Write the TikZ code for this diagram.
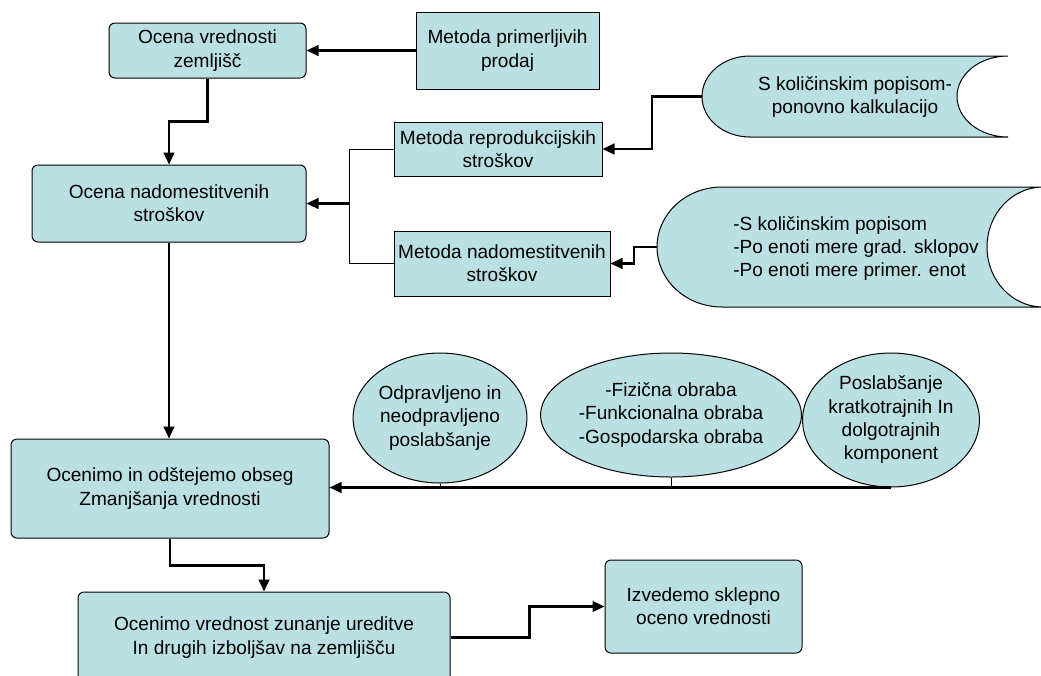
\documentclass[tikz,border=0pt]{standalone}
\usepackage{fontspec}
\setmainfont{Liberation Sans}
\usetikzlibrary{arrows.meta,shapes.geometric}
\definecolor{boxfill}{RGB}{187,224,227}
\tikzset{
  box/.style={draw,fill=boxfill,line width=0.75pt,align=center,inner sep=0pt,
    font=\fontsize{14.3}{17.5}\selectfont},
  roundbox/.style={box,rounded corners=4.5pt},
  oval/.style={box,ellipse},
  wh/.style 2 args={minimum width=#1*0.75pt,minimum height=#2*0.75pt},
  store/.style={draw,fill=boxfill,line width=0.75pt},
  txt/.style={align=left,inner sep=0pt,font=\fontsize{14.3}{17.5}\selectfont},
  conn/.style={line width=1.6pt,-{Triangle[length=9pt,width=8pt]}},
  branch/.style={line width=0.75pt}
}

\begin{document}
\begin{tikzpicture}[x=0.75pt,y=-0.75pt]
  \useasboundingbox (0,0) rectangle (1041,675);
  \clip (0,0) rectangle (1041,675);

  \node[roundbox,wh={197}{55}] (zeml) at (207.5,50.5) {Ocena vrednosti\\zemljišč};
  \node[box,wh={183}{77}] (prim) at (507.5,50.5) {Metoda primerljivih\\prodaj};
  \node[roundbox,wh={274}{77}] (nadcost) at (169,203.5) {Ocena nadomestitvenih\\stroškov};
  \node[box,wh={208}{54}] (repro) at (498,149) {Metoda reprodukcijskih\\stroškov};
  \node[box,wh={216}{65}] (nadmet) at (502,263.5) {Metoda nadomestitvenih\\stroškov};

  \path[store] (750,56) -- (1008,56) arc[start angle=270,end angle=90,x radius=51,y radius=40.5]
    -- (750,137) arc[start angle=90,end angle=270,x radius=48,y radius=40.5] -- cycle;
  \coordinate (kol1) at (702,96.5);
  \node[txt,align=center] (kol1text) at (855,97) {S količinskim popisom-\\ponovno kalkulacijo};

  \path[store] (722,187) -- (1043,187) arc[start angle=270,end angle=90,x radius=56,y radius=60]
    -- (722,307) arc[start angle=90,end angle=270,x radius=65,y radius=60] -- cycle;
  \coordinate (kol2) at (657,247);
  \node[txt,anchor=west] (kol2text) at (733,248.5) {-S količinskim popisom\\-Po enoti mere grad. sklopov\\-Po enoti mere primer. enot};

  \node[roundbox,wh={318}{99}] (amort) at (170,488.5) {Ocenimo in odštejemo obseg\\Zmanjšanja vrednosti};
  \node[oval,wh={154}{130}] (e1) at (440,418) {Odpravljeno in\\neodpravljeno\\poslabšanje};
  \node[oval,wh={220}{124}] (e2) at (671,415) {-Fizična obraba\\-Funkcionalna obraba\\-Gospodarska obraba};
  \node[oval,wh={156}{134}] (e3) at (891,420) {Poslabšanje\\kratkotrajnih In\\dolgotrajnih\\komponent};
  \node[roundbox,wh={372}{91}] (zunanje) at (264,637.5) {Ocenimo vrednost zunanje ureditve\\In drugih izboljšav na zemljišču};
  \node[roundbox,wh={197}{93}] (final) at (703.5,606.5) {Izvedemo sklepno\\oceno vrednosti};

  \draw[conn] (prim.west) -- (zeml.east);
  \draw[conn] (zeml.south) -- ++(0,43) -| (nadcost.north);
  \draw[branch] (repro.west) -- ++(-44,0) |- (nadmet.west);
  \coordinate (join) at (350,203.5);
  \draw[conn] (join) -- (nadcost.east);
  \draw[conn] (kol1) -- ++(-50,0) |- (repro.east);
  \draw[conn] (kol2) -- ++(-23,0) |- (nadmet.east);
  \draw[conn] (nadcost.south) -- (nadcost.south |- amort.north);
  \draw[branch] (e1.south) -- (e1.south |- e3.south);
  \draw[branch] (e2.south) -- (e2.south |- e3.south);
  \draw[conn] (e3.south) -- (e3.south -| amort.east);
  \draw[conn] (amort.south) -- ++(0,27) -| (zunanje.north);
  \draw[conn] (zunanje.east) -- ++(79,0) |- (final.west);

\end{tikzpicture}
\end{document}
